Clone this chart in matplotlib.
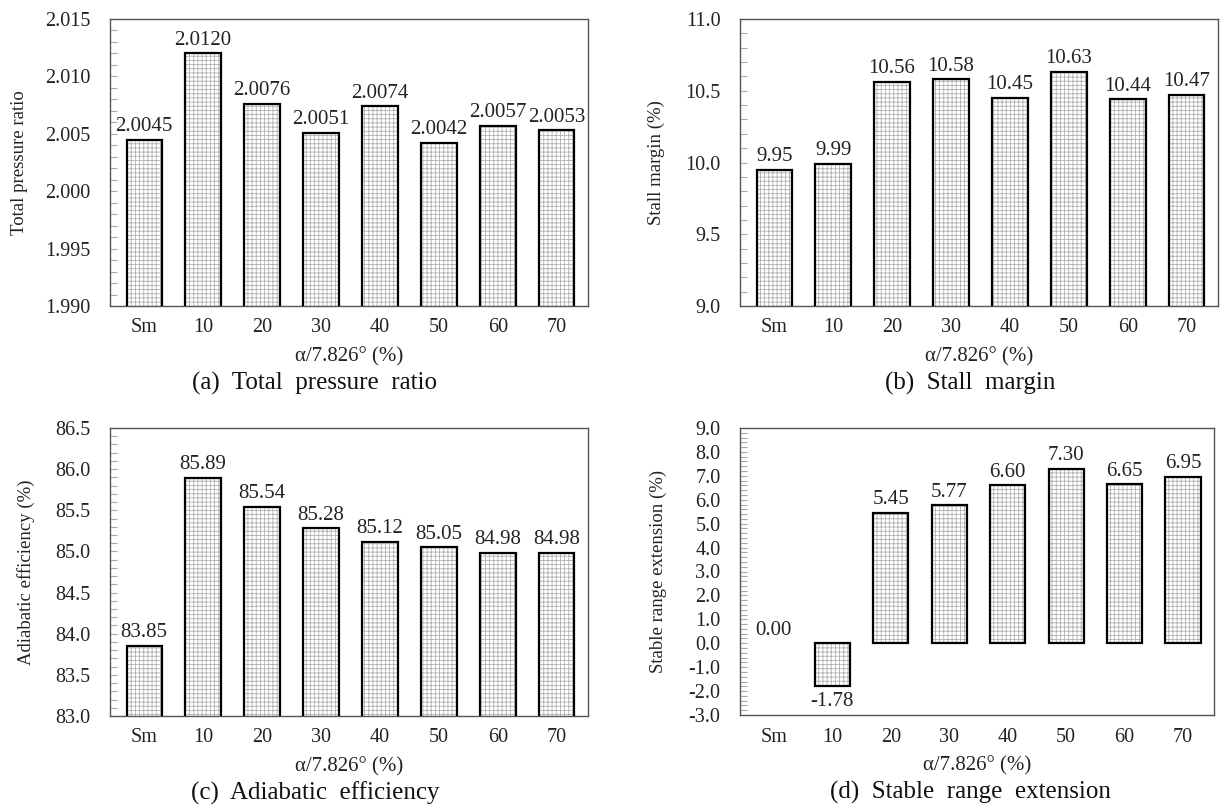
import numpy as np
import matplotlib
matplotlib.use("Agg")
import matplotlib.pyplot as plt
from matplotlib.ticker import MultipleLocator, FormatStrFormatter

plt.rcParams['font.family'] = ['Liberation Serif', 'DejaVu Serif']
plt.rcParams['hatch.linewidth'] = 0.6

cats = ['Sm', '10', '20', '30', '40', '50', '60', '70']
pressure_ratio = [2.0045, 2.0120, 2.0076, 2.0051, 2.0074, 2.0042, 2.0057, 2.0053]
stall_margin = [9.95, 9.99, 10.56, 10.58, 10.45, 10.63, 10.44, 10.47]
adiabatic_eff = [83.85, 85.89, 85.54, 85.28, 85.12, 85.05, 84.98, 84.98]
range_ext = [0.00, -1.78, 5.45, 5.77, 6.60, 7.30, 6.65, 6.95]

W, H = 1222, 807
fig = plt.figure(figsize=(W / 100, H / 100), dpi=100)


def px_axes(left, top, right, bottom):
    return fig.add_axes([left / W, 1 - bottom / H, (right - left) / W, (bottom - top) / H])


panels = [
    # data, axes box (px), ylim, major, minor, tick fmt, label fmt, ylabel, ylabel x, caption, caption x
    (pressure_ratio, (110, 19, 588, 306), (1.990, 2.015), 0.005, 0.001, '%.3f', '%.4f',
     'Total pressure ratio', -0.172, '(a)  Total  pressure  ratio', 315),
    (stall_margin, (740, 19, 1218, 306), (9.0, 11.0), 0.5, 0.1, '%.1f', '%.2f',
     'Stall margin (%)', -0.157, '(b)  Stall  margin', 970),
    (adiabatic_eff, (110, 428, 588, 716), (83.0, 86.5), 0.5, 0.1, '%.1f', '%.2f',
     'Adiabatic efficiency (%)', -0.157, '(c)  Adiabatic  efficiency', 315),
    (range_ext, (740, 428, 1214, 715), (-3.0, 9.0), 1.0, 0.2, '%.1f', '%.2f',
     'Stable range extension (%)', -0.154, '(d)  Stable  range  extension', 970),
]

x = np.arange(len(cats))
for vals, box, ylim, maj, mnr, fmt, lfmt, ylab, ylx, cap, capx in panels:
    ax = px_axes(*box)
    ax.bar(x, vals, width=0.6, color='white', hatch='++++', edgecolor='#b0b0b0', linewidth=0, zorder=2)
    # zero-height bars get no outline
    lws = [0 if v == 0 else 1.6 for v in vals]
    ax.bar(x, vals, width=0.6, fill=False, edgecolor='black', linewidth=lws, zorder=3)
    ax.set_xlim(-0.58, 7.53)
    ax.set_ylim(*ylim)
    ax.set_xticks(x)
    ax.set_xticklabels(cats)
    ax.yaxis.set_major_locator(MultipleLocator(maj))
    ax.yaxis.set_minor_locator(MultipleLocator(mnr))
    ax.yaxis.set_major_formatter(FormatStrFormatter(fmt))
    ax.tick_params(axis='y', which='both', direction='in', length=5, width=0.8,
                   color='#aaaaaa', labelsize=14.5, pad=14, labelcolor='#222222')
    ax.tick_params(axis='x', length=0, labelsize=14.5, pad=9, labelcolor='#222222')
    for s in ax.spines.values():
        s.set_color('#555555')
        s.set_linewidth(1.0)
    ax.set_ylabel(ylab, fontsize=13.5, color='#222222')
    ax.yaxis.set_label_coords(ylx, 0.5)
    for xi, v in zip(x, vals):
        off = -11 if v < 0 else 9.5
        ax.annotate(lfmt % v, (xi, v), xytext=(0, off), textcoords='offset points',
                    ha='center', va='center', fontsize=15, color='#222222', zorder=4)
    ax.text(0.5, -0.178, 'α/7.826° (%)', transform=ax.transAxes, ha='center', va='center',
            fontsize=15, color='#222222')
    fig.text(capx / W, 1 - (box[3] + 77) / H, cap, ha='center', va='center', fontsize=18,
             color='#111111')

fig.savefig('out.png', dpi=100)
